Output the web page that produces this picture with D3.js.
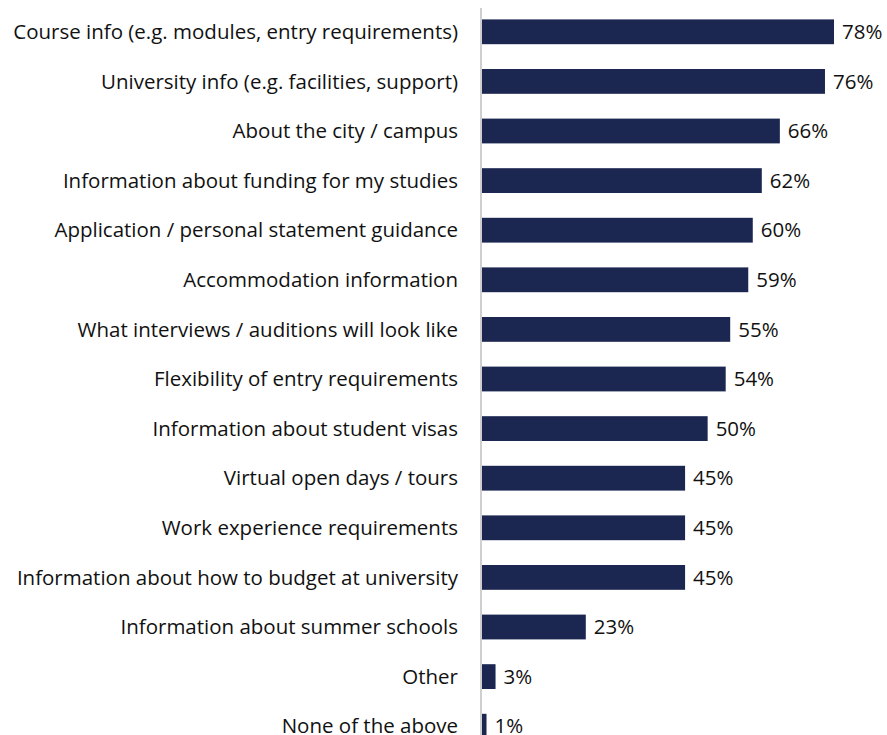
<!DOCTYPE html>
<html>
<head>
<meta charset="utf-8">
<script src="https://cdn.jsdelivr.net/npm/d3@7"></script>
<style>
  body { margin: 0; background: #fff; }
  text { font-family: 'Open Sans', sans-serif; fill: #111; }
</style>
</head>
<body>
<div id="chart"></div>
<script>
let categories = [
  'Course info (e.g. modules, entry requirements)',
  'University info (e.g. facilities, support)',
  'About the city / campus',
  'Information about funding for my studies',
  'Application / personal statement guidance',
  'Accommodation information',
  'What interviews / auditions will look like',
  'Flexibility of entry requirements',
  'Information about student visas',
  'Virtual open days / tours',
  'Work experience requirements',
  'Information about how to budget at university',
  'Information about summer schools',
  'Other',
  'None of the above'
]

let values = [78, 76, 66, 62, 60, 59, 55, 54, 50, 45, 45, 45, 23, 3, 1]

let width = 887
let height = 735
let margin = { top: 7, left: 482, right: 0, bottom: 0 }

let svg = d3
  .select('#chart')
  .append('svg')
  .attr('width', width)
  .attr('height', height)

// fit the label font so the longest label spans like the original
let probe = svg
  .append('text')
  .attr('font-size', 20)
  .text(categories[0])
let fontSize = 20 * 445 / probe.node().getComputedTextLength()
probe.remove()

let x = d3.scaleLinear().domain([0, 78]).range([margin.left, 834])

let y = d3
  .scaleBand()
  .domain(categories)
  .range([margin.top, margin.top + 49.6 * categories.length])
  .paddingInner(0.5)
  .paddingOuter(0.25)

// bars
svg
  .selectAll('.bar')
  .data(categories)
  .enter()
  .append('rect')
  .attr('class', 'bar')
  .attr('x', x(0))
  .attr('y', d => y(d))
  .attr('height', y.bandwidth())
  .attr('width', (d, i) => x(values[i]) - x(0))
  .attr('fill', '#1b2651')

// value labels
svg
  .selectAll('.value')
  .data(categories)
  .enter()
  .append('text')
  .attr('class', 'value')
  .attr('x', (d, i) => x(values[i]) + 8)
  .attr('y', d => y(d) + y.bandwidth() / 2)
  .attr('dy', '0.35em')
  .attr('font-size', fontSize)
  .text((d, i) => values[i] + '%')

// category labels
svg
  .selectAll('.cat')
  .data(categories)
  .enter()
  .append('text')
  .attr('class', 'cat')
  .attr('x', 458)
  .attr('y', d => y(d) + y.bandwidth() / 2)
  .attr('dy', '0.35em')
  .attr('text-anchor', 'end')
  .attr('font-size', fontSize)
  .text(d => d)

// axis line
svg
  .append('line')
  .attr('x1', x(0) - 1)
  .attr('x2', x(0) - 1)
  .attr('y1', 8)
  .attr('y2', height)
  .attr('stroke', '#bfbfbf')
  .attr('stroke-width', 1.5)
</script>
</body>
</html>
